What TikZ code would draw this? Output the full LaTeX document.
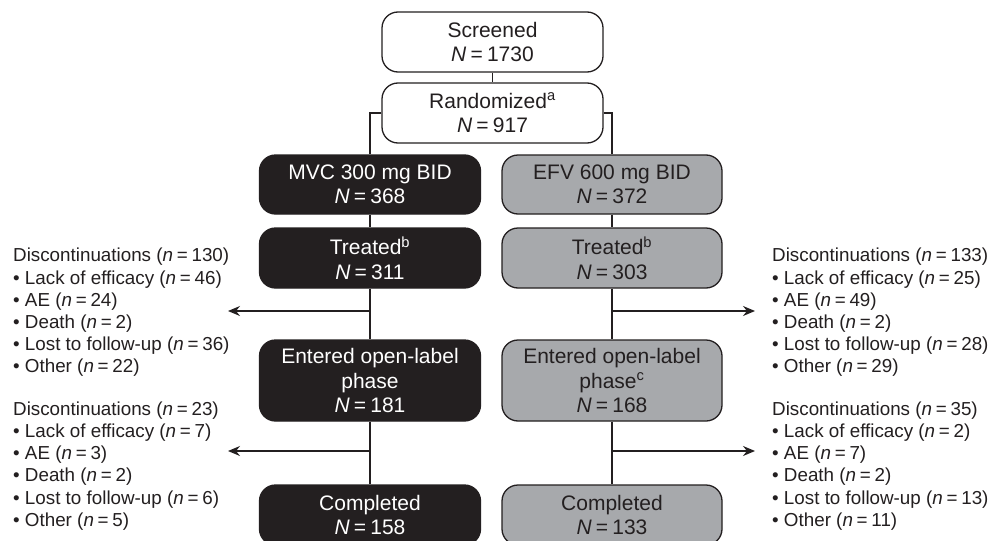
\documentclass[tikz,border=0pt]{standalone}
\usepackage{fontspec}
\setmainfont{Liberation Sans}
\usetikzlibrary{arrows.meta}
\definecolor{ink}{HTML}{231F20}
\definecolor{grayfill}{HTML}{A7A9AC}
\tikzset{
  boxbase/.style={draw=ink, line width=1.3pt, rounded corners=16pt, align=center, inner sep=0pt,
    font=\fontsize{21}{24.5}\selectfont},
  wbox/.style={boxbase, fill=white, text=ink},
  bbox/.style={boxbase, fill=ink, text=white},
  gbox/.style={boxbase, fill=grayfill, text=ink},
  conn/.style={draw=ink, line width=1.3pt},
  arr/.style={conn, -{Stealth[length=12pt,width=10pt,inset=4pt]}},
  sidetext/.style={align=left, inner sep=0pt, text=ink, font=\fontsize{18.8}{22.2}\selectfont}
}
\newcommand{\eqsp}{\kern0.2em=\kern0.2em}
\newcommand{\NN}[1]{\textit{N}\eqsp#1}
\newcommand{\nn}[1]{(\textit{n}\eqsp#1)}
\begin{document}
\begin{tikzpicture}[x=1pt,y=-1pt]
\clip (0,0) rectangle (989,541);
\fill[white] (0,0) rectangle (989,541);
% top boxes
\node[wbox, minimum width=221pt, minimum height=60pt] (scr) at (492.5,42) {Screened\\\NN{1730}};
\node[wbox, minimum width=221pt, minimum height=60pt] (rnd) at (492.5,113) {Randomized\textsuperscript{a}\\\NN{917}};
% arms
\node[bbox, minimum width=221pt, minimum height=59pt] (mvc) at (370,184.5) {MVC 300 mg BID\\\NN{368}};
\node[gbox, minimum width=220pt, minimum height=59pt] (efv) at (612,184.5) {EFV 600 mg BID\\\NN{372}};
\node[bbox, minimum width=221pt, minimum height=60pt] (trm) at (370,258) {Treated\textsuperscript{b}\\\NN{311}};
\node[gbox, minimum width=220pt, minimum height=60pt] (tre) at (612,258) {Treated\textsuperscript{b}\\\NN{303}};
\node[bbox, minimum width=221pt, minimum height=81pt] (enm) at (370,380.5) {Entered open-label\\phase\\\NN{181}};
\node[gbox, minimum width=220pt, minimum height=81pt] (ene) at (612,380.5) {Entered open-label\\phase\textsuperscript{c}\\\NN{168}};
\node[bbox, minimum width=221pt, minimum height=60pt] (com) at (370,515) {Completed\\\NN{158}};
\node[gbox, minimum width=220pt, minimum height=60pt] (coe) at (612,515) {Completed\\\NN{133}};
% connectors
\draw[conn] (scr.south) -- (rnd.north);
\draw[conn] (rnd.west) -| (mvc.north);
\draw[conn] (rnd.east) -| (efv.north);
\draw[conn] (mvc.south) -- (trm.north);
\draw[conn] (efv.south) -- (tre.north);
\draw[conn] (trm.south) -- (enm.north);
\draw[conn] (tre.south) -- (ene.north);
\draw[conn] (enm.south) -- (com.north);
\draw[conn] (ene.south) -- (coe.north);
% arrows
\coordinate (la1) at (228,311);
\coordinate (la2) at (228,451);
\coordinate (ra1) at (755,311);
\coordinate (ra2) at (755,451);
\draw[arr] (trm.south |- la1) -- (la1);
\draw[arr] (enm.south |- la2) -- (la2);
\draw[arr] (tre.south |- ra1) -- (ra1);
\draw[arr] (ene.south |- ra2) -- (ra2);
% side texts
\node[sidetext, anchor=west] (dl1) at (13,312.5) {Discontinuations \nn{130}\\• Lack of efficacy \nn{46}\\• AE \nn{24}\\• Death \nn{2}\\• Lost to follow-up \nn{36}\\• Other \nn{22}};
\node[sidetext, anchor=west] (dl2) at (13,466) {Discontinuations \nn{23}\\• Lack of efficacy \nn{7}\\• AE \nn{3}\\• Death \nn{2}\\• Lost to follow-up \nn{6}\\• Other \nn{5}};
\node[sidetext, anchor=west] (dr1) at (772,312.5) {Discontinuations \nn{133}\\• Lack of efficacy \nn{25}\\• AE \nn{49}\\• Death \nn{2}\\• Lost to follow-up \nn{28}\\• Other \nn{29}};
\node[sidetext, anchor=west] (dr2) at (772,466) {Discontinuations \nn{35}\\• Lack of efficacy \nn{2}\\• AE \nn{7}\\• Death \nn{2}\\• Lost to follow-up \nn{13}\\• Other \nn{11}};
\end{tikzpicture}
\end{document}
